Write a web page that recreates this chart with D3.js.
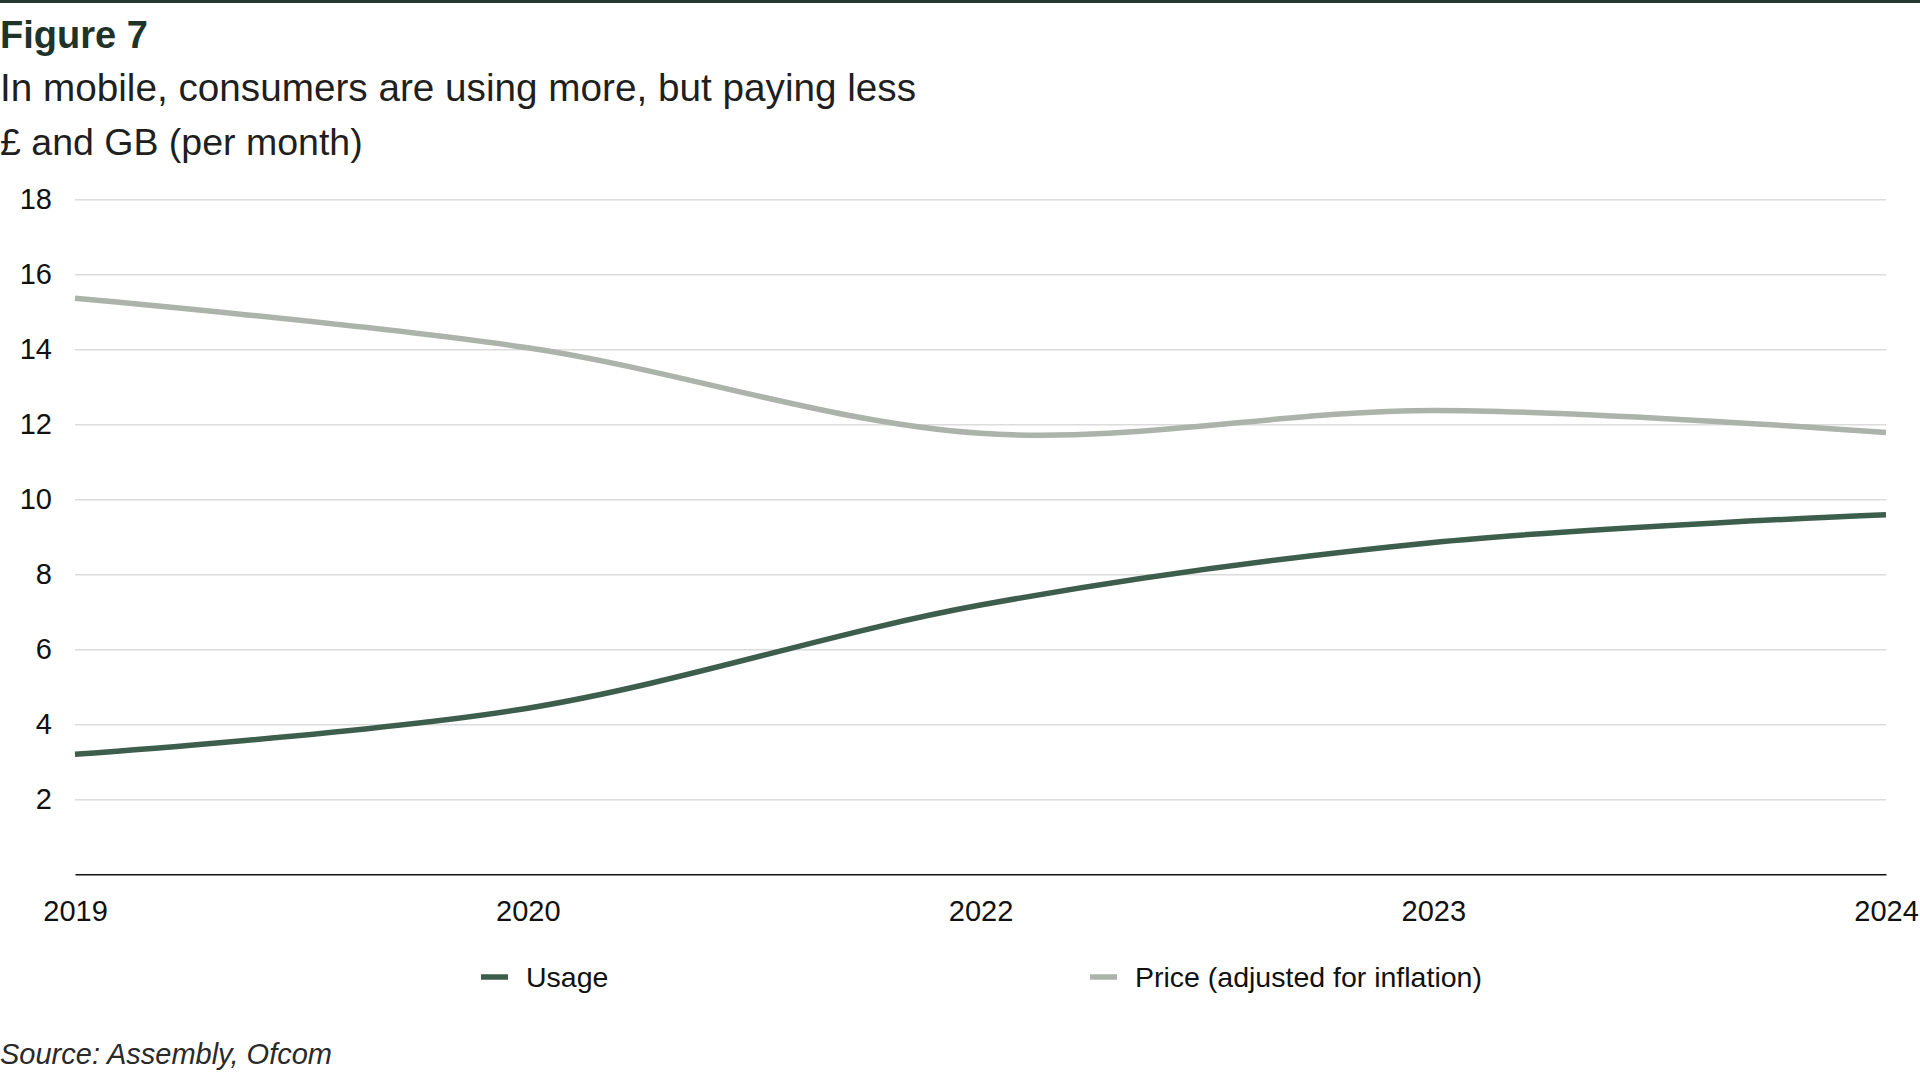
<!DOCTYPE html>
<html>
<head>
<meta charset="utf-8">
<script src="https://cdn.jsdelivr.net/npm/d3@7"></script>
<style>
  html, body { margin: 0; padding: 0; background: #fff; }
  svg { display: block; font-family: "Liberation Sans", Arial, sans-serif; }
</style>
</head>
<body>
<svg id="chart" width="1920" height="1080"></svg>
<script>
// Chart data
var years = ["2019", "2020", "2022", "2023", "2024"];
var usage = [3.2, 4.43, 7.18, 8.85, 9.59];
var price = [15.36, 14.04, 11.76, 12.37, 11.78];
var yTicks = [2, 4, 6, 8, 10, 12, 14, 16, 18];
var seriesNames = ["Usage", "Price (adjusted for inflation)"];

var colours = ["#3e5e4d", "#abb3aa"];
var W = 1920, H = 1080;
var m = { left: 75, right: 34, top: 199.3, bottom: 205.7 };

var svg = d3.select("#chart");

// top rule
svg.append("rect").attr("x", 0).attr("y", 0).attr("width", W).attr("height", 3).attr("fill", "#24392f");

// titles
svg.append("text").attr("x", 0).attr("y", 48)
  .style("font-size", "38px").style("font-weight", "bold").style("fill", "#1f3329")
  .text("Figure 7");
svg.append("text").attr("x", 0).attr("y", 101)
  .style("font-size", "38.7px").style("fill", "#1f1f1f")
  .text("In mobile, consumers are using more, but paying less");
svg.append("text").attr("x", 0).attr("y", 155)
  .style("font-size", "37.5px").style("fill", "#1f1f1f")
  .text("£ and GB (per month)");

// scales
var x = d3.scalePoint().domain(years).range([m.left, W - m.right]);
var y = d3.scaleLinear().domain([0, 18]).range([H - m.bottom, m.top]);

// y axis + grid
var yAxis = svg.append("g")
  .attr("transform", "translate(" + m.left + ",0)")
  .call(d3.axisLeft(y).tickValues(yTicks).tickSize(-(W - m.left - m.right)).tickPadding(23));
yAxis.select(".domain").remove();
yAxis.selectAll("line").attr("stroke", "#dcdcdc").attr("stroke-width", 1.5);
yAxis.selectAll("text").style("font-size", "29px").style("fill", "#111").attr("font-family", null);

// x axis
var xAxis = svg.append("g")
  .attr("transform", "translate(0," + y(0) + ")")
  .call(d3.axisBottom(x).tickSize(0).tickPadding(26));
xAxis.select(".domain").attr("stroke", "#111").attr("stroke-width", 1.5);
xAxis.selectAll("text").style("font-size", "29px").style("fill", "#111").attr("font-family", null);

// lines
var line = d3.line()
  .x(function (d, i) { return x(years[i]); })
  .y(function (d) { return y(d); })
  .curve(d3.curveCatmullRom.alpha(0.5));

[price, usage].forEach(function (s) {
  svg.append("path")
    .datum(s)
    .attr("fill", "none")
    .attr("stroke", s === usage ? colours[0] : colours[1])
    .attr("stroke-width", 5.5)
    .attr("d", line);
});

// legend
var legendX = [481, 1090];
var legend = svg.append("g").selectAll("g")
  .data(seriesNames)
  .enter().append("g")
  .attr("transform", function (d, i) { return "translate(" + legendX[i] + ",977)"; });
legend.append("line")
  .attr("x1", 0).attr("x2", 27).attr("y1", 0).attr("y2", 0)
  .attr("stroke", function (d, i) { return colours[i]; })
  .attr("stroke-width", 5.5);
legend.append("text")
  .attr("x", 45).attr("dy", "0.35em")
  .style("font-size", "28.5px").style("fill", "#111")
  .text(function (d) { return d; });

// source
svg.append("text").attr("x", 0).attr("y", 1064)
  .style("font-size", "29px").style("font-style", "italic").style("fill", "#2a2a2a")
  .text("Source: Assembly, Ofcom");
</script>
</body>
</html>
